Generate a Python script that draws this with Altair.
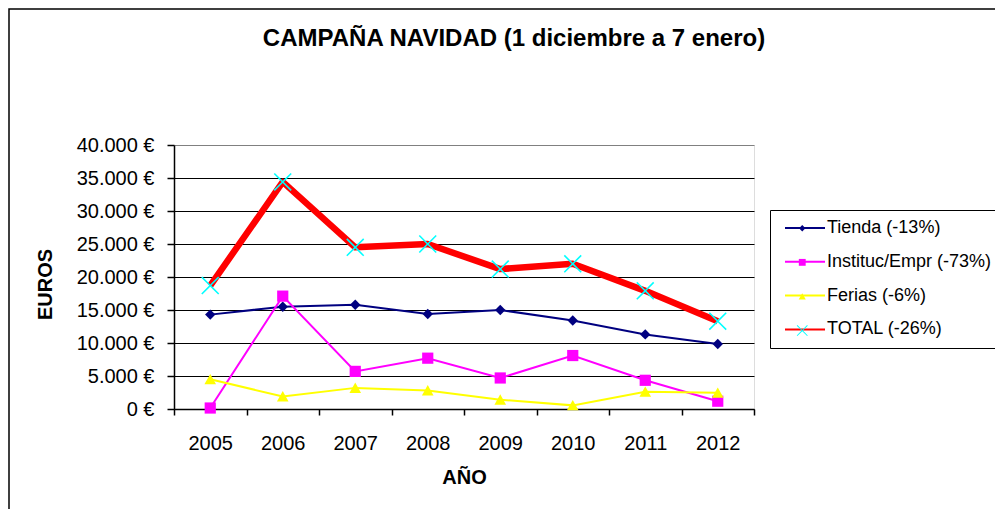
import math
import altair as alt
import pandas as pd

# ---------------- data ----------------
years = ["2005", "2006", "2007", "2008", "2009", "2010", "2011", "2012"]
series_names = ["Tienda (-13%)", "Instituc/Empr (-73%)", "Ferias (-6%)", "TOTAL (-26%)"]
tienda = [14300, 15500, 15800, 14400, 15000, 13400, 11300, 9850]
instituc = [150, 17100, 5700, 7700, 4700, 8100, 4350, 1180]
ferias = [4500, 1900, 3200, 2800, 1400, 550, 2600, 2450]
total = [18700, 34400, 24500, 25000, 21200, 22000, 17900, 13300]
y_ticks = [0, 5000, 10000, 15000, 20000, 25000, 30000, 35000, 40000]

line_colors = ["#000080", "#FF00FF", "#FFFF00", "#FF0000"]
marker_colors = ["#000080", "#FF00FF", "#FFFF00", "#00FFFF"]

# marker shapes (unit box, scaled by sqrt(size)/2)
diamond = "M0,-0.26L0.26,0L0,0.26L-0.26,0Z"
square = "M-0.28,-0.28L0.28,-0.28L0.28,0.28L-0.28,0.28Z"
triangle = "M0,-0.27L0.29,0.25L-0.29,0.25Z"
a, e = 0.45, 0.055
xshape = (f"M{-a},{-a+e}L{-a+e},{-a}L0,{-e}L{a-e},{-a}L{a},{-a+e}L{e},0"
          f"L{a},{a-e}L{a-e},{a}L0,{e}L{-a+e},{a}L{-a},{a-e}L{-e},0Z")
marker_paths = [diamond, square, triangle, xshape]

# marker keys (separate domain so that marker legend overlays the line legend)
marker_names = [n + " " for n in series_names]

rows = []
for name, mname, vals in zip(series_names, marker_names, [tienda, instituc, ferias, total]):
    for yr, v in zip(years, vals):
        rows.append({"serie": name, "marca": mname, "anio": yr, "euros": v})
df = pd.DataFrame(rows)

FONT = "Liberation Sans"

# ---------------- layout (view origin at page 174,145) ----------------
W, H = 580, 264

x_enc = alt.X(
    "anio:O",
    scale=alt.Scale(type="band", paddingInner=0, paddingOuter=0),
    axis=alt.Axis(
        title="AÑO", labelAngle=0, tickBand="extent", grid=False,
        labelFont=FONT, labelFontSize=20, labelColor="black", labelPadding=18,
        tickSize=6, tickColor="black", tickWidth=1.5,
        domainColor="black", domainWidth=1.5,
        titleFont=FONT, titleFontSize=20, titleFontWeight="bold", titleColor="black",
        titleX=W / 2, titleY=68, titleBaseline="middle", titleAlign="center",
    ),
)
y_enc = alt.Y(
    "euros:Q",
    scale=alt.Scale(domain=[0, 40000], nice=False),
    axis=alt.Axis(
        title="EUROS", values=y_ticks,
        labelExpr="replace(format(datum.value, ',d'), ',', '.') + ' €'",
        labelFont=FONT, labelFontSize=20, labelColor="black", labelPadding=13,
        tickSize=7, tickColor="black", tickWidth=1.5,
        domainColor="black", domainWidth=1.5,
        gridColor={"condition": {"test": "datum.value >= 40000", "value": "#808080"}, "value": "black"},
        gridWidth=1.2,
        titleFont=FONT, titleFontSize=20, titleFontWeight="bold", titleColor="black",
        titleAngle=270, titleX=-129, titleY=139, titleAlign="center", titleBaseline="middle",
    ),
)

LX, LY = 596, 65
PAD = 9
leg_line = alt.Legend(
    title=None, orient="none", legendX=LX, legendY=LY, direction="vertical",
    symbolType="M-4,0H4", symbolSize=100, symbolStrokeWidth=2, symbolOffset=17,
    padding=PAD, rowPadding=15.8, labelOffset=13, labelLimit=400,
    labelFont=FONT, labelFontSize=18, labelColor="black",
    strokeColor="black",
)
msize = 600
leg_mark = alt.Legend(
    title=None, orient="none", legendX=LX, legendY=LY - 3.25, direction="vertical",
    symbolSize=msize, symbolOffset=23 - math.sqrt(msize) / 2, symbolStrokeWidth=0,
    padding=PAD, rowPadding=12.1, labelOffset=8, labelLimit=400,
    labelFont=FONT, labelFontSize=18, labelColor="rgba(0,0,0,0)", labelExpr="' '",
)

color_enc = alt.Color("serie:N", scale=alt.Scale(domain=series_names, range=line_colors), legend=leg_line)

frame = alt.Chart(pd.DataFrame({"k": [0]})).mark_rect(
    fill="transparent", stroke="black", strokeWidth=1.5
).encode(x=alt.value(-165), x2=alt.value(840), y=alt.value(-136), y2=alt.value(380))

thin = alt.Chart(df).transform_filter(alt.datum.serie != series_names[3]).mark_line(
    strokeWidth=2
).encode(x=x_enc, y=y_enc, color=color_enc)

thick = alt.Chart(df).transform_filter(alt.datum.serie == series_names[3]).mark_line(
    strokeWidth=6.5, strokeJoin="round"
).encode(x=x_enc, y=y_enc, color=color_enc)

points = alt.Chart(df).mark_point(filled=True, size=1600, opacity=1, strokeWidth=0).encode(
    x=x_enc, y=y_enc,
    fill=alt.Fill("marca:N", scale=alt.Scale(domain=marker_names, range=marker_colors), legend=leg_mark),
    shape=alt.Shape("marca:N", scale=alt.Scale(domain=marker_names, range=marker_paths), legend=leg_mark),
)

chart = alt.layer(frame, thin, thick, points).properties(
    width=W, height=H,
    padding={"left": 166, "top": 137, "right": 241, "bottom": 100},
    autosize=alt.AutoSizeParams(type="none"),
    title=alt.Title(
        "CAMPAÑA NAVIDAD (1 diciembre a 7 enero)",
        font=FONT, fontSize=24, fontWeight="bold", color="black",
        anchor="middle", frame="group", dx=50, offset=-62, baseline="alphabetic",
    ),
).configure_view(
    fill="#C0C0C0", stroke="#808080", strokeWidth=2
).configure(background="white")

chart.save("out.html", embed_options={"renderer": "svg", "actions": False})
